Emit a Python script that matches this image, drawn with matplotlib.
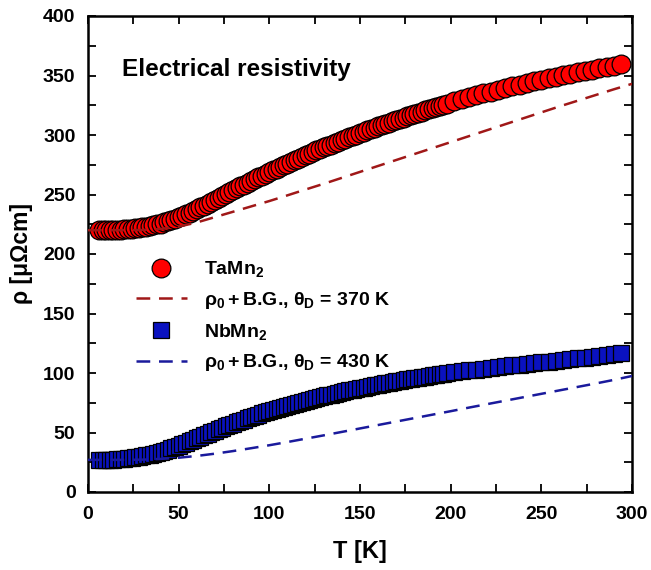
import matplotlib
matplotlib.use("Agg")
import matplotlib.pyplot as plt
from matplotlib.ticker import MultipleLocator

plt.rcParams['font.family'] = ['Liberation Sans', 'DejaVu Sans']
plt.rcParams['font.weight'] = 'bold'
plt.rcParams['mathtext.fontset'] = 'custom'
plt.rcParams['mathtext.rm'] = 'Liberation Sans:bold'
plt.rcParams['mathtext.it'] = 'Liberation Sans:bold'
plt.rcParams['mathtext.bf'] = 'Liberation Sans:bold'
plt.rcParams['mathtext.sf'] = 'Liberation Sans:bold'

# ---------------- data ----------------
T_data = [6, 8, 10, 12, 14, 16, 18, 20, 22, 24, 26, 28, 30, 32, 34, 36, 38, 40,
          42, 44, 46, 48, 50, 52, 54, 56, 58, 60, 62, 64, 66, 68, 70, 72, 74, 76, 78, 80,
          82, 84, 86, 88, 90, 92, 94, 96, 98, 100, 102, 104, 106, 108, 110, 112, 114, 116,
          118, 120, 122, 124, 126, 128, 130, 132, 134, 136, 138, 140, 142, 144, 146, 148,
          150, 152, 154, 156, 158, 160, 162, 164, 166, 168, 170, 172, 174, 176, 178, 180,
          182, 184, 186, 188, 190, 192, 194, 196, 198,
          202, 206, 210, 214, 218, 222, 226, 230, 234, 238, 242, 246, 250, 254, 258, 262,
          266, 270, 274, 278, 282, 286, 290, 294]

rho_TaMn2 = [220.0, 220.1, 220.1, 220.2, 220.3, 220.4, 220.5, 220.7, 220.9, 221.2,
             221.6, 222.0, 222.4, 222.9, 223.5, 224.1, 224.8, 225.6, 226.5, 227.5,
             228.5, 229.6, 230.8, 232.0, 233.3, 234.7, 236.1, 237.6, 239.1, 240.6,
             242.2, 243.8, 245.4, 247.0, 248.7, 250.3, 252.0, 253.6, 255.2, 256.8,
             258.4, 260.0, 261.5, 263.0, 264.5, 265.9, 267.4, 268.8, 270.3, 271.7,
             273.1, 274.6, 276.0, 277.4, 278.8, 280.2, 281.6, 283.0, 284.3, 285.7,
             287.0, 288.2, 289.5, 290.8, 292.0, 293.2, 294.4, 295.6, 296.8, 298.0,
             299.2, 300.3, 301.5, 302.7, 303.8, 304.9, 306.1, 307.2, 308.3, 309.4,
             310.4, 311.5, 312.6, 313.6, 314.7, 315.7, 316.7, 317.7, 318.7, 319.7,
             320.7, 321.6, 322.6, 323.6, 324.5, 325.5, 326.4,
             328.2, 329.9, 331.6, 333.3, 334.9, 336.5, 338.0, 339.5, 341.0, 342.4,
             343.8, 345.2, 346.5, 347.8, 349.1, 350.3, 351.5, 352.7, 353.8, 355.0,
             356.1, 357.1, 358.1, 359.3]

rho_NbMn2 = [27.0, 27.0, 27.1, 27.2, 27.3, 27.5, 27.7, 28.0, 28.3, 28.7,
             29.1, 29.6, 30.2, 30.8, 31.4, 32.2, 33.0, 33.8, 34.7, 35.7,
             36.7, 37.8, 38.9, 40.1, 41.3, 42.5, 43.7, 45.0, 46.3, 47.6,
             48.8, 50.1, 51.4, 52.7, 53.9, 55.1, 56.3, 57.5, 58.6, 59.7,
             60.8, 61.9, 63.0, 64.0, 65.1, 66.1, 67.0, 68.0, 68.9, 69.8,
             70.7, 71.6, 72.5, 73.3, 74.2, 75.0, 75.8, 76.6, 77.4, 78.1,
             78.9, 79.6, 80.4, 81.1, 81.8, 82.5, 83.2, 83.9, 84.6, 85.3,
             85.9, 86.6, 87.2, 87.8, 88.4, 89.0, 89.6, 90.2, 90.8, 91.3,
             91.9, 92.4, 93.0, 93.5, 94.0, 94.6, 95.1, 95.6, 96.1, 96.6,
             97.0, 97.5, 98.0, 98.4, 98.9, 99.3, 99.8,
             100.6, 101.4, 102.2, 102.9, 103.6, 104.4, 105.1, 105.8, 106.4, 107.1,
             107.7, 108.4, 109.0, 109.6, 110.3, 110.9, 111.6, 112.2, 112.8, 113.5,
             114.1, 114.8, 115.6, 116.4]

T_fit = [0, 10, 20, 30, 40, 50, 60, 70, 80, 90, 100, 110, 120, 130, 140, 150, 160, 170,
         180, 190, 200, 210, 220, 230, 240, 250, 260, 270, 280, 290, 300]

fit_TaMn2 = [220.0, 220.0, 220.0, 220.2, 221.0, 223.0, 226.5, 231.0, 235.5, 240.0,
             244.5, 249.3, 254.2, 259.0, 264.0, 269.0, 274.0, 279.0, 284.0, 289.0,
             294.0, 299.0, 304.0, 309.0, 314.0, 319.0, 324.0, 328.8, 333.6, 338.4, 343.0]

fit_NbMn2 = [27.0, 27.0, 27.0, 27.2, 27.8, 28.8, 30.3, 32.2, 34.4, 36.8,
             39.3, 42.0, 44.8, 47.6, 50.5, 53.4, 56.3, 59.2, 62.1, 65.0,
             67.9, 70.9, 73.8, 76.7, 79.6, 82.5, 85.4, 88.3, 91.2, 94.2, 97.5]

labels = ["TaMn$_2$", r"$\rho_0+$B.G., $\theta_D$ = 370 K",
          "NbMn$_2$", r"$\rho_0+$B.G., $\theta_D$ = 430 K"]

x_ticks = [0, 50, 100, 150, 200, 250, 300]
y_ticks = [0, 50, 100, 150, 200, 250, 300, 350, 400]

# ---------------- figure ----------------
fig = plt.figure(figsize=(6.51, 5.70), dpi=100)
ax = fig.add_axes([88 / 651, 1 - 492 / 570, (632 - 88) / 651, (492 - 16) / 570])

h1, = ax.plot(T_data, rho_TaMn2, linestyle='none', marker='o', markersize=13.5,
              markerfacecolor='#ff0000', markeredgecolor='black', markeredgewidth=0.9,
              zorder=3, label=labels[0])
h3, = ax.plot(T_data, rho_NbMn2, linestyle='none', marker='s', markersize=12,
              markerfacecolor='#0a12c0', markeredgecolor='black', markeredgewidth=0.9,
              zorder=3, label=labels[2])
h2, = ax.plot(T_fit, fit_TaMn2, linestyle=(0, (5.5, 3.5)), color='#a01818', linewidth=1.8,
              zorder=4, label=labels[1])
h4, = ax.plot(T_fit, fit_NbMn2, linestyle=(0, (5.5, 3.5)), color='#1a1a9c', linewidth=1.8,
              zorder=4, label=labels[3])

ax.set_xlim(0, 300)
ax.set_ylim(0, 400)
ax.set_xticks(x_ticks)
ax.set_yticks(y_ticks)
ax.xaxis.set_minor_locator(MultipleLocator(25))
ax.yaxis.set_minor_locator(MultipleLocator(25))
ax.tick_params(which='both', direction='in', top=True, right=True, length=6, width=1.3)
ax.tick_params(which='major', labelsize=14)
ax.tick_params(axis='x', which='major', pad=10)
ax.tick_params(axis='y', which='major', pad=9)
for lbl in ax.get_xticklabels() + ax.get_yticklabels():
    lbl.set_fontweight('bold')
for sp in ax.spines.values():
    sp.set_linewidth(1.8)

ax.set_xlabel("T [K]", fontsize=17, fontweight='bold', labelpad=12)
ax.set_ylabel("ρ [μΩcm]", fontsize=16.5, fontweight='bold', labelpad=7)

ax.text((121.5 - 88) / 544, (492 - 76) / 476, "Electrical resistivity", transform=ax.transAxes,
        fontsize=17.5, fontweight='bold', ha='left', va='baseline')

leg = ax.legend(handles=[h1, h2, h3, h4], loc='upper left', bbox_to_anchor=(0.074, 0.505),
                frameon=False, fontsize=14, numpoints=1, handlelength=2.6,
                handletextpad=0.9, labelspacing=0.55, borderaxespad=0)

fig.savefig("out.png", dpi=100)
